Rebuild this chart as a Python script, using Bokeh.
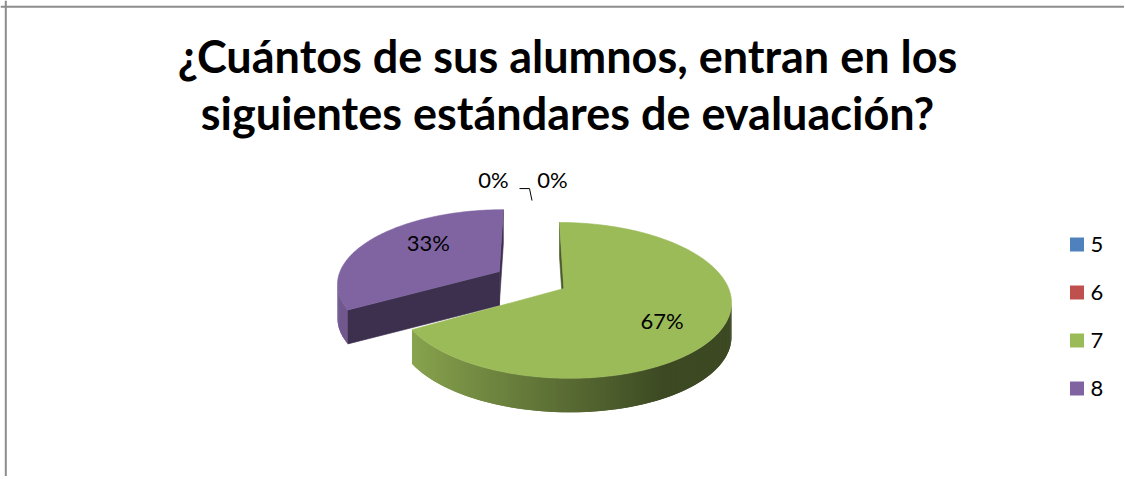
import math
import numpy as np
from bokeh.plotting import figure
from bokeh.models import Range1d, Span
from bokeh.core.properties import value
from bokeh.embed import file_html
from bokeh.resources import INLINE

# ---------------- data ----------------
title_lines = ["¿Cuántos de sus alumnos, entran en los",
               "siguientes estándares de evaluación?"]
categories = ["5", "6", "7", "8"]
counts = [0, 0, 2, 1]
colors = ["#4f81bd", "#c0504d", "#9bbb59", "#8064a2"]

# ---------------- layout / style ----------------
W, H = 1124, 476
FONT = "Lato"
TITLE_SIZE = 45
TITLE_X = 567
TITLE_BASE = [72, 129]
LABEL_SIZE = 22

# pie geometry (screen pixels, simple perspective)
CX, CY = 530.5, 279.4
R, RY = 162.0, 73.5
PERSP = 0.15
EXPL = 0.23
DEPTH = 34.0

LEG_X, LEG_Y, LEG_DY, LEG_SQ = 1076.5, 244.0, 48.0, 14


def proj(u, v):
    w = 1.0 + PERSP * v
    return CX + R * u / w, CY - RY * v / w


def shade(hexc, f):
    h = hexc.lstrip("#")
    r, g, b = (int(h[i:i + 2], 16) for i in (0, 2, 4))
    return "#%02x%02x%02x" % (round(r * f), round(g * f), round(b * f))


p = figure(width=W, height=H,
           x_range=Range1d(0, W), y_range=Range1d(H, 0),
           output_backend="svg", toolbar_location=None, min_border=0,
           x_axis_type=None, y_axis_type=None)
p.xgrid.visible = False
p.ygrid.visible = False
p.outline_line_color = None
p.background_fill_color = "white"
p.border_fill_color = "white"

# chart frame (left and top edges)
p.add_layout(Span(location=5.3, dimension="height", line_color="#8c8c8c", line_width=2))
p.add_layout(Span(location=6.3, dimension="width", line_color="#8c8c8c", line_width=2))

# ---------------- slices ----------------
total = float(sum(counts))
angle = 90.0
slices = []
for cat, c, col in zip(categories, counts, colors):
    sweep = 360.0 * c / total
    a0, a1 = angle, angle - sweep
    angle = a1
    mid = math.radians((a0 + a1) / 2)
    slices.append(dict(cat=cat, frac=c / total, a0=math.radians(a0), a1=math.radians(a1),
                       mid=mid, col=col,
                       ox=EXPL * math.cos(mid), oy=EXPL * math.sin(mid)))

xs, ys, fills, lines = [], [], [], []
drawn = [s for s in slices if s["frac"] > 0]
drawn.sort(key=lambda s: -math.sin(s["mid"]))
for s in drawn:
    n = max(int(abs(s["a1"] - s["a0"]) / math.radians(1.0)), 2) + 1
    th = np.linspace(s["a0"], s["a1"], n)
    rx, ry = proj(s["ox"] + np.cos(th), s["oy"] + np.sin(th))
    ax, ay = proj(s["ox"], s["oy"])
    # outer wall (front-facing parts only); quads overlap the next step to avoid seams
    for i in range(n - 1):
        if rx[i + 1] < rx[i]:
            j = min(i + 2, n - 1)
            if rx[j] >= rx[i + 1]:
                j = i + 1
            tm = 0.5 * (th[i] + th[i + 1])
            t = min(max((math.cos(tm) + 0.87) / 1.37, 0.0), 1.0)
            f = 0.88 + (0.39 - 0.88) * t
            xs.append([rx[i], rx[j], rx[j], rx[i]])
            ys.append([ry[i], ry[j], ry[j] + DEPTH, ry[i] + DEPTH])
            fills.append(shade(s["col"], f))
            lines.append(None)
    # radial cut faces
    for k, nrm in ((0, s["a0"] + math.pi / 2), (-1, s["a1"] - math.pi / 2)):
        if math.sin(nrm) <= 1e-9:
            c2 = shade(s["col"], 0.48)
            xs.append([ax, rx[k], rx[k], ax])
            ys.append([ay, ry[k], ry[k] + DEPTH, ay + DEPTH])
            fills.append(c2)
            lines.append(c2)
    # top surface
    xs.append([ax] + list(rx))
    ys.append([ay] + list(ry))
    fills.append(s["col"])
    lines.append(s["col"])

p.patches(xs, ys, fill_color=fills, line_color=lines, line_width=0.6)

# ---------------- data labels ----------------
lab_x, lab_y, lab_t = [], [], []
zero = [s for s in slices if s["frac"] == 0]
for s in drawn:
    u = s["ox"] + 0.6 * math.cos(s["mid"])
    v = s["oy"] + 0.6 * math.sin(s["mid"])
    x, y = proj(u, v)
    y += -0.5 * DEPTH * math.sin(s["mid"])
    lab_x.append(x + 7)
    lab_y.append(y)
    lab_t.append("%d%%" % round(100 * s["frac"]))

if zero:
    zx, zy = proj(zero[0]["ox"], zero[0]["oy"] + 1.0)
    p.line([zx + 1, zx - 1.5, zx - 11.5], [zy - 3, zy - 15, zy - 15],
           line_color="black", line_width=1)
    offs = [-37.5, 21.5]
    for j, s in enumerate(zero):
        lab_x.append(zx + offs[j % 2])
        lab_y.append(zy - 24)
        lab_t.append("%d%%" % round(100 * s["frac"]))

p.text(x=lab_x, y=lab_y, text=lab_t, text_font=value(FONT),
       text_font_size="%dpx" % LABEL_SIZE, text_align="center",
       text_baseline="middle", text_color="black")

# ---------------- title ----------------
p.text(x=[TITLE_X] * len(title_lines), y=[b - 0.37 * TITLE_SIZE for b in TITLE_BASE],
       text=title_lines,
       text_font=value(FONT), text_font_style="bold",
       text_font_size="%dpx" % TITLE_SIZE, text_align="center",
       text_baseline="middle", text_color="black")

# ---------------- legend ----------------
ly = [LEG_Y + i * LEG_DY for i in range(len(categories))]
p.scatter(x=[LEG_X] * len(categories), y=ly, marker="square", size=LEG_SQ,
          fill_color=colors, line_color=None)
p.text(x=[LEG_X + 13.5] * len(categories), y=ly,
       text=categories, text_font=value(FONT), text_font_size="%dpx" % LABEL_SIZE,
       text_align="left", text_baseline="middle", text_color="black")

open("out.html", "w").write(file_html(p, INLINE))
